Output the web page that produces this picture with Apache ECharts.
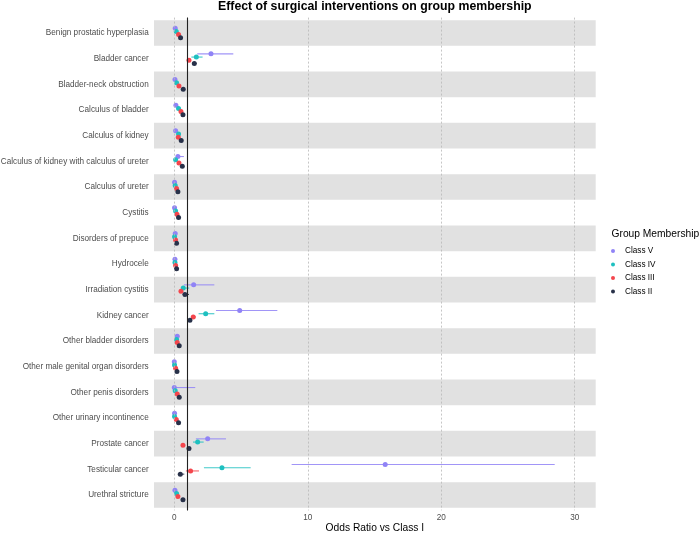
<!DOCTYPE html>
<html>
<head>
<meta charset="utf-8">
<script src="https://cdn.jsdelivr.net/npm/echarts@6/dist/echarts.min.js"></script>
<style>html,body{margin:0;padding:0;background:#fff;}#c{width:700px;height:533px;}</style>
</head>
<body>
<div id="c"></div>
<script>
const categories = ['Benign prostatic hyperplasia','Bladder cancer','Bladder-neck obstruction','Calculus of bladder','Calculus of kidney','Calculus of kidney with calculus of ureter','Calculus of ureter','Cystitis','Disorders of prepuce','Hydrocele','Irradiation cystitis','Kidney cancer','Other bladder disorders','Other male genital organ disorders','Other penis disorders','Other urinary incontinence','Prostate cancer','Testicular cancer','Urethral stricture'];

const classNames = ['Class V','Class IV','Class III','Class II'];

const classV_or   = [0.07, 2.75, 0.05, 0.12, 0.10, 0.27, 0.02, 0.02, 0.07, 0.05, 1.45, 4.90, 0.22, 0.00, 0.00, 0.02, 2.50, 15.80, 0.05];
const classV_low  = [0.03, 1.72, 0.02, 0.06, 0.05, 0.13, 0.01, 0.01, 0.03, 0.02, 0.72, 3.12, 0.12, 0.00, 0.00, 0.01, 1.62, 8.79, 0.02];
const classV_high = [0.18, 4.42, 0.14, 0.24, 0.20, 0.72, 0.06, 0.06, 0.18, 0.12, 3.00, 7.72, 0.38, 0.02, 1.57, 0.06, 3.87, 28.50, 0.14];

const classIV_or   = [0.15, 1.65, 0.17, 0.32, 0.32, 0.10, 0.07, 0.10, 0.02, 0.05, 0.67, 2.35, 0.17, 0.02, 0.07, 0.02, 1.75, 3.57, 0.17];
const classIV_low  = [0.10, 1.28, 0.10, 0.22, 0.24, 0.05, 0.04, 0.06, 0.01, 0.02, 0.50, 1.82, 0.10, 0.01, 0.03, 0.01, 1.40, 2.22, 0.10];
const classIV_high = [0.22, 2.12, 0.27, 0.45, 0.42, 0.20, 0.12, 0.16, 0.05, 0.10, 1.12, 3.00, 0.27, 0.05, 0.15, 0.05, 2.20, 5.72, 0.27];

const classIII_or   = [0.32, 1.10, 0.35, 0.50, 0.30, 0.35, 0.17, 0.20, 0.10, 0.10, 0.50, 1.42, 0.22, 0.10, 0.22, 0.15, 0.65, 1.22, 0.27];
const classIII_low  = [0.27, 0.98, 0.29, 0.42, 0.25, 0.29, 0.13, 0.16, 0.07, 0.07, 0.42, 1.25, 0.17, 0.07, 0.17, 0.11, 0.57, 0.87, 0.21];
const classIII_high = [0.38, 1.25, 0.42, 0.60, 0.36, 0.42, 0.22, 0.25, 0.14, 0.14, 0.60, 1.62, 0.28, 0.14, 0.28, 0.20, 0.74, 1.85, 0.34];

const classII_or   = [0.47, 1.50, 0.67, 0.65, 0.52, 0.60, 0.27, 0.32, 0.17, 0.17, 0.80, 1.17, 0.37, 0.20, 0.37, 0.32, 1.10, 0.45, 0.65];
const classII_low  = [0.40, 1.35, 0.57, 0.55, 0.45, 0.50, 0.22, 0.27, 0.13, 0.13, 0.62, 1.07, 0.30, 0.16, 0.30, 0.26, 1.00, 0.27, 0.55];
const classII_high = [0.55, 1.67, 0.78, 0.76, 0.60, 0.72, 0.33, 0.38, 0.22, 0.22, 1.10, 1.30, 0.45, 0.25, 0.45, 0.39, 1.20, 0.75, 0.77];

const xTicks = [0, 10, 20, 30];
const refLine = 1;

const colors = ['#9083f6', '#1ec0c0', '#f4464d', '#283149'];
const dodge = [-0.1875, -0.0625, 0.0625, 0.1875];
const groups = [
  [classV_or, classV_low, classV_high],
  [classIV_or, classIV_low, classIV_high],
  [classIII_or, classIII_low, classIII_high],
  [classII_or, classII_low, classII_high]
];

const FONT = 'Liberation Sans, Arial, Helvetica, sans-serif';

const series = [];
const bands = [];
categories.forEach((c, i) => { if (i % 2 === 0) bands.push([{ yAxis: i - 0.5 }, { yAxis: i + 0.5 }]); });
series.push({
  type: 'line', data: [], z: 0, silent: true,
  markArea: { silent: true, itemStyle: { color: '#e1e1e1' }, data: bands }
});
series.push({
  type: 'line', data: [], z: 1, silent: true,
  markLine: {
    silent: true, symbol: ['none', 'none'], label: { show: false },
    data: xTicks.map(v => ({ xAxis: v, lineStyle: { color: '#b8b8b8', type: [2, 2], width: 0.8 } }))
      .concat([{ xAxis: refLine, lineStyle: { color: '#222', type: 'solid', width: 1.1 } }])
  }
});

groups.forEach((g, k) => {
  const [or, lo, hi] = g;
  const errData = categories.map((c, i) => [lo[i], hi[i], i + dodge[k]]);
  series.push({
    name: classNames[k] + ' CI',
    type: 'custom',
    z: 3,
    silent: true,
    encode: { x: [0, 1], y: 2 },
    data: errData,
    renderItem: (params, api) => {
      const y = api.value(2);
      const p1 = api.coord([api.value(0), y]);
      const p2 = api.coord([api.value(1), y]);
      return { type: 'line', shape: { x1: p1[0], y1: p1[1], x2: p2[0], y2: p2[1] },
        style: { stroke: colors[k], lineWidth: 1.1, opacity: 0.85 } };
    }
  });
});
groups.forEach((g, k) => {
  const [or] = g;
  series.push({
    name: classNames[k],
    type: 'scatter',
    z: 4,
    symbol: 'circle',
    symbolSize: 5,
    itemStyle: { color: colors[k], opacity: 1 },
    data: categories.map((c, i) => [or[i], i + dodge[k]])
  });
});

const chart = echarts.init(document.getElementById('c'), null, { renderer: 'canvas' });
chart.setOption({
  animation: false,
  backgroundColor: '#ffffff',
  title: [
    { text: 'Effect of surgical interventions on group membership', left: 374.8, top: 0, padding: 0, textAlign: 'center',
      textStyle: { fontFamily: FONT, fontSize: 12.3, fontWeight: 'bold', color: '#000', lineHeight: 14 } },
    { text: 'Group Membership', left: 611.5, top: 228, padding: 0,
      textStyle: { fontFamily: FONT, fontSize: 10.25, fontWeight: 'normal', color: '#000', lineHeight: 12 } }
  ],
  legend: {
    data: classNames,
    orient: 'vertical',
    left: 611,
    top: 246,
    padding: 0,
    icon: 'circle',
    itemWidth: 14,
    itemHeight: 4,
    itemGap: 3.5,
    textStyle: { fontFamily: FONT, fontSize: 8.2, color: '#000', lineHeight: 10 }
  },
  grid: { left: 154, right: 104.3, top: 17.6, bottom: 22.6, containLabel: false, outerBoundsMode: 'none' },
  xAxis: {
    type: 'value', min: -1.52, max: 31.57,
    name: 'Odds Ratio vs Class I', nameLocation: 'middle', nameGap: 12, nameMoveOverlap: false,
    nameTextStyle: { fontFamily: FONT, fontSize: 10.25, color: '#000', lineHeight: 11 },
    axisLine: { show: false }, axisTick: { show: false }, splitLine: { show: false },
    axisLabel: { customValues: xTicks, margin: 3, fontFamily: FONT, fontSize: 8.2, color: '#4d4d4d' }
  },
  yAxis: {
    type: 'value', min: -0.6, max: 18.6, inverse: true,
    axisLine: { show: false }, axisTick: { show: false }, splitLine: { show: false },
    axisLabel: { customValues: categories.map((c, i) => i), margin: 5.3, fontFamily: FONT, fontSize: 8.2, color: '#4d4d4d',
      formatter: v => categories[Math.round(v)] }
  },
  series: series
});
</script>
</body>
</html>
